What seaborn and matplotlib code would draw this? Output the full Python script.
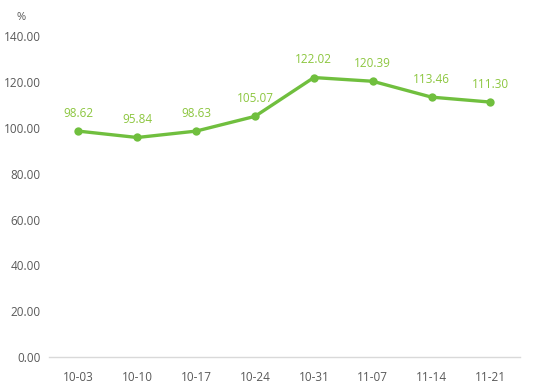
import matplotlib
matplotlib.use("Agg")
import matplotlib.pyplot as plt
import seaborn as sns
import pandas as pd

categories = ["10-03", "10-10", "10-17", "10-24", "10-31", "11-07", "11-14", "11-21"]
values = [98.62, 95.84, 98.63, 105.07, 122.02, 120.39, 113.46, 111.30]
yticks = [0, 20, 40, 60, 80, 100, 120, 140]

sns.set_style("white")
plt.rcParams["font.family"] = ["Open Sans", "DejaVu Sans"]

df = pd.DataFrame({"week": categories, "value": values})
df["pos"] = range(len(categories))

fig = plt.figure(figsize=(5.54, 3.91), dpi=100)
ax = fig.add_axes([0.0884, 0.087, 0.850, 0.820])

line_color = "#70BF3E"
label_color = "#8CC63F"
sns.lineplot(data=df, x="pos", y="value", ax=ax, color=line_color, linewidth=2.4,
             marker="o", markersize=6, markeredgewidth=0, markerfacecolor=line_color)

for x, v in zip(df["pos"], df["value"]):
    ax.annotate(f"{v:.2f}", (x, v), xytext=(0, 8), textcoords="offset points",
                ha="center", va="bottom", color=label_color, fontsize=8.5)

ax.set_xlim(-0.5, len(categories) - 0.5)
ax.set_ylim(0, 140)
ax.set_yticks(yticks)
ax.set_yticklabels([f"{t:.2f}" for t in yticks])
ax.set_xticks(range(len(categories)))
ax.set_xticklabels(categories)
ax.set_xlabel("")
ax.set_ylabel("")

for s in ["top", "right", "left"]:
    ax.spines[s].set_visible(False)
ax.spines["bottom"].set_color("#D9D9D9")
ax.spines["bottom"].set_linewidth(1)

ax.set_xticks([i - 0.5 for i in range(len(categories) + 1)], minor=True)
ax.tick_params(axis="x", which="minor", length=5, color="#D9D9D9", width=1, direction="out")
ax.tick_params(axis="x", which="major", length=0, pad=10, labelsize=8.5, labelcolor="#595959")
ax.tick_params(axis="y", length=0, pad=6, labelsize=8.5, labelcolor="#595959")

fig.text(21 / 554, 1 - 18 / 391, "%", ha="center", va="center", fontsize=8, color="#595959")

fig.savefig("out.png", dpi=100)
